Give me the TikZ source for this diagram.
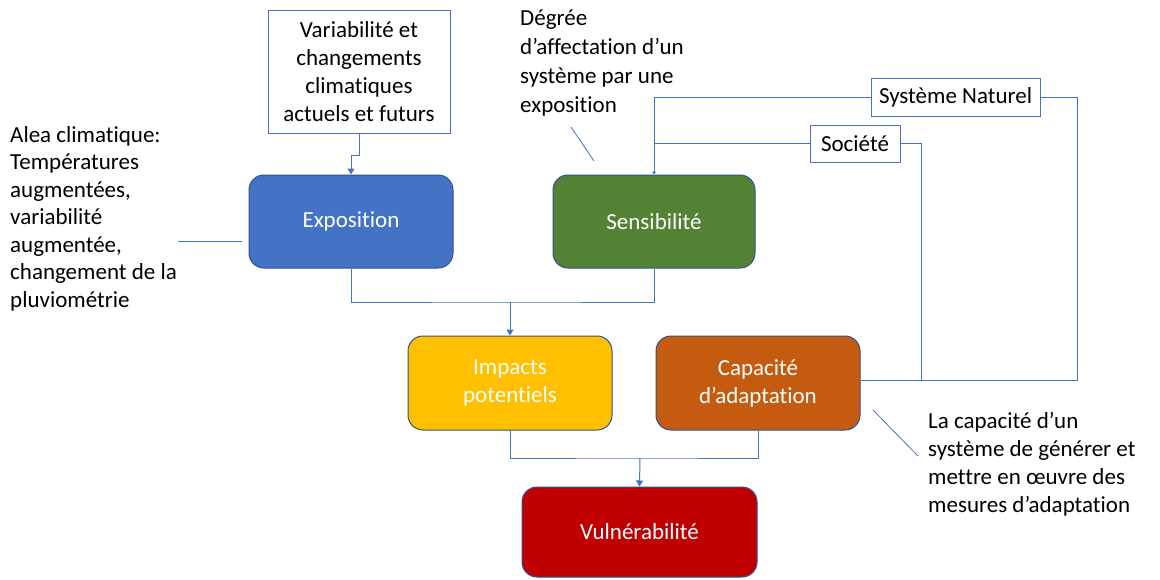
\documentclass[tikz,border=0pt]{standalone}
\usepackage{fontspec}
\setmainfont{Carlito}[Ligatures={NoCommon}]
\usetikzlibrary{arrows.meta}
\definecolor{lineblue}{HTML}{4472C4}
\definecolor{darkedge}{HTML}{2F528F}
\definecolor{expo}{HTML}{4472C4}
\definecolor{sensi}{HTML}{548235}
\definecolor{impact}{HTML}{FFC000}
\definecolor{capa}{HTML}{C55A11}
\definecolor{vuln}{HTML}{C00000}
\begin{document}
\begin{tikzpicture}[x=1pt,y=-1pt,
  card/.style={draw=darkedge, line width=1pt, rounded corners=15pt, text=white,
    font=\fontsize{23}{28}\selectfont, align=center, inner sep=0pt},
  framebox/.style={draw=lineblue, line width=1pt, fill=white, inner sep=0pt,
    font=\fontsize{23}{28}\selectfont, align=center},
  link/.style={draw=lineblue, line width=1pt},
  arr/.style={link, -{Triangle[width=7pt,length=6pt]}},
  tinyarr/.style={link, -{Triangle[width=4pt,length=3pt]}},
  thinlink/.style={draw=lineblue, line width=0.8pt},
  note/.style={font=\fontsize{23}{27.5}\selectfont, align=left, inner sep=0pt, anchor=base west}]
\useasboundingbox (0,0) rectangle (1160,579);
\fill[white] (0,0) rectangle (1160,579);

% main cards
\node[card, fill=expo, minimum width=204pt, minimum height=93pt] (expo) at (351,221.5) {Exposition};
\node[card, fill=sensi, minimum width=202pt, minimum height=93pt] (sens) at (654,221.5) {Sensibilité};
\node[card, fill=impact, minimum width=204pt, minimum height=94pt] (imp) at (510,383) {Impacts\\potentiels};
\node[card, fill=capa, minimum width=204pt, minimum height=94pt] (capa) at (758,383) {Capacité\\d’adaptation};
\node[card, fill=vuln, minimum width=235pt, minimum height=90pt] (vuln) at (639.5,532) {Vulnérabilité};

% framed boxes
\node[framebox, minimum width=182pt, minimum height=123pt] (var) at (359,71.5)
  {Variabilité et\\changements\\climatiques\\actuels et futurs};
\node[framebox, minimum width=169pt, minimum height=38pt] (nat) at (955.5,97) {Système Naturel};
\node[framebox, minimum width=90pt, minimum height=37pt] (soc) at (855,143.5) {Société};

% notes (anchor = baseline of the last line)
\node[note] (alea) at (10,307) {Alea climatique:\\Températures\\augmentées,\\variabilité\\augmentée,\\changement de la\\pluviométrie};
\node[note, font=\fontsize{23}{29}\selectfont] (deg) at (520,112) {Dégrée\\d’affectation d’un\\système par une\\exposition};
\node[note, font=\fontsize{23}{28}\selectfont] (lacap) at (928,512) {La capacité d’un\\système de générer et\\mettre en œuvre des\\mesures d’adaptation};

% junctions
\coordinate (j1) at (510,302);
\coordinate (j2) at (640,458);
\coordinate (r1) at (1077,380);
\coordinate (r2) at (921,380);

% connectors
\draw[arr] (var.south) -- ++(0,22) -| (expo.north);
\draw[link] (expo.south) |- (j1) -| (sens.south);
\draw[arr] (j1) -- (imp.north);
\draw[link] (imp.south) |- (j2) -| (capa.south);
\draw[arr] (j2) -- (vuln.north);
\draw[tinyarr] (nat.west) -| (sens.north);
\draw[link] (soc.west) -- (soc.west -| sens.north);
\draw[link] (nat.east) -| (r1) -- (capa.east |- r1);
\draw[link] (soc.east) -| (r2);

% note pointers
\coordinate (p1) at (178,241); \coordinate (p2) at (242,241);
\draw[thinlink] (p1) -- (p2);
\coordinate (p3) at (571,127); \coordinate (p4) at (594,161);
\draw[thinlink] (p3) -- (p4);
\coordinate (p5) at (873,410); \coordinate (p6) at (918,456);
\draw[thinlink] (p5) -- (p6);
\end{tikzpicture}
\end{document}
